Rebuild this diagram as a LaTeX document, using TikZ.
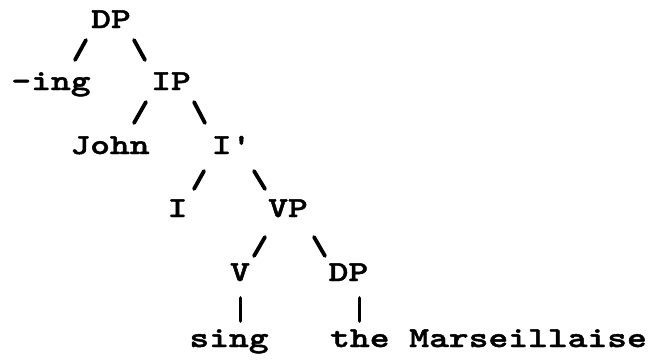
\documentclass[tikz,border=0pt]{standalone}
\usepackage{fontspec}
\usetikzlibrary{calc}
\newfontfamily\tw{lmmonolt10-bold.otf}[FakeStretch=1.3,FakeBold=1.5]
\begin{document}
\begin{tikzpicture}[x=1pt,y=-1pt,
  lbl/.style={inner sep=0pt,anchor=base,font=\tw\fontsize{29}{29}\selectfont},
  br/.style={line width=3.8pt,line cap=round}]
\useasboundingbox (0,0) rectangle (649,360);
\node[lbl] (dpA)  at (111,28)   {DP};
\node[lbl] (ing)  at (51,90)    {-ing};
\node[lbl] (ipA)  at (171,90)   {IP};
\node[lbl] (john) at (110,154)  {John};
\node[lbl] (ibar) at (231.5,154){I'};
\node[lbl] (iA)   at (177.5,217){I};
\node[lbl] (vp)   at (288,217)  {VP};
\node[lbl] (vA)   at (240,281)  {V};
\node[lbl] (dpB)  at (348.5,281){DP};
\node[lbl] (sing) at (229,347)  {sing};
\node[lbl] (the)  at (488.5,347){the Marseillaise};
\draw[br] ($(dpA.base)+(-25,12)$) -- ($(ing.base)+(24,-30)$);
\draw[br] ($(dpA.base)+(23,12)$) -- ($(ipA.base)+(-26,-30)$);
\draw[br] ($(ipA.base)+(-25,12)$) -- ($(john.base)+(24,-31)$);
\draw[br] ($(ipA.base)+(23,12)$) -- ($(ibar.base)+(-26.5,-31)$);
\draw[br] ($(ibar.base)+(-27.5,17)$) -- ($(iA.base)+(16.5,-28)$);
\draw[br] ($(ibar.base)+(22.5,17)$) -- ($(vp.base)+(-23,-28)$);
\draw[br] ($(vp.base)+(-23,20)$) -- ($(vA.base)+(14,-25)$);
\draw[br] ($(vp.base)+(26,20)$) -- ($(dpB.base)+(-23.5,-25)$);
\draw[br] ($(vA.base)+(0.5,17)$) -- ($(sing.base)+(11.5,-26)$);
\draw[br] ($(dpB.base)+(11,17)$) -- ($(the.base)+(-129,-26)$);
\end{tikzpicture}
\end{document}
